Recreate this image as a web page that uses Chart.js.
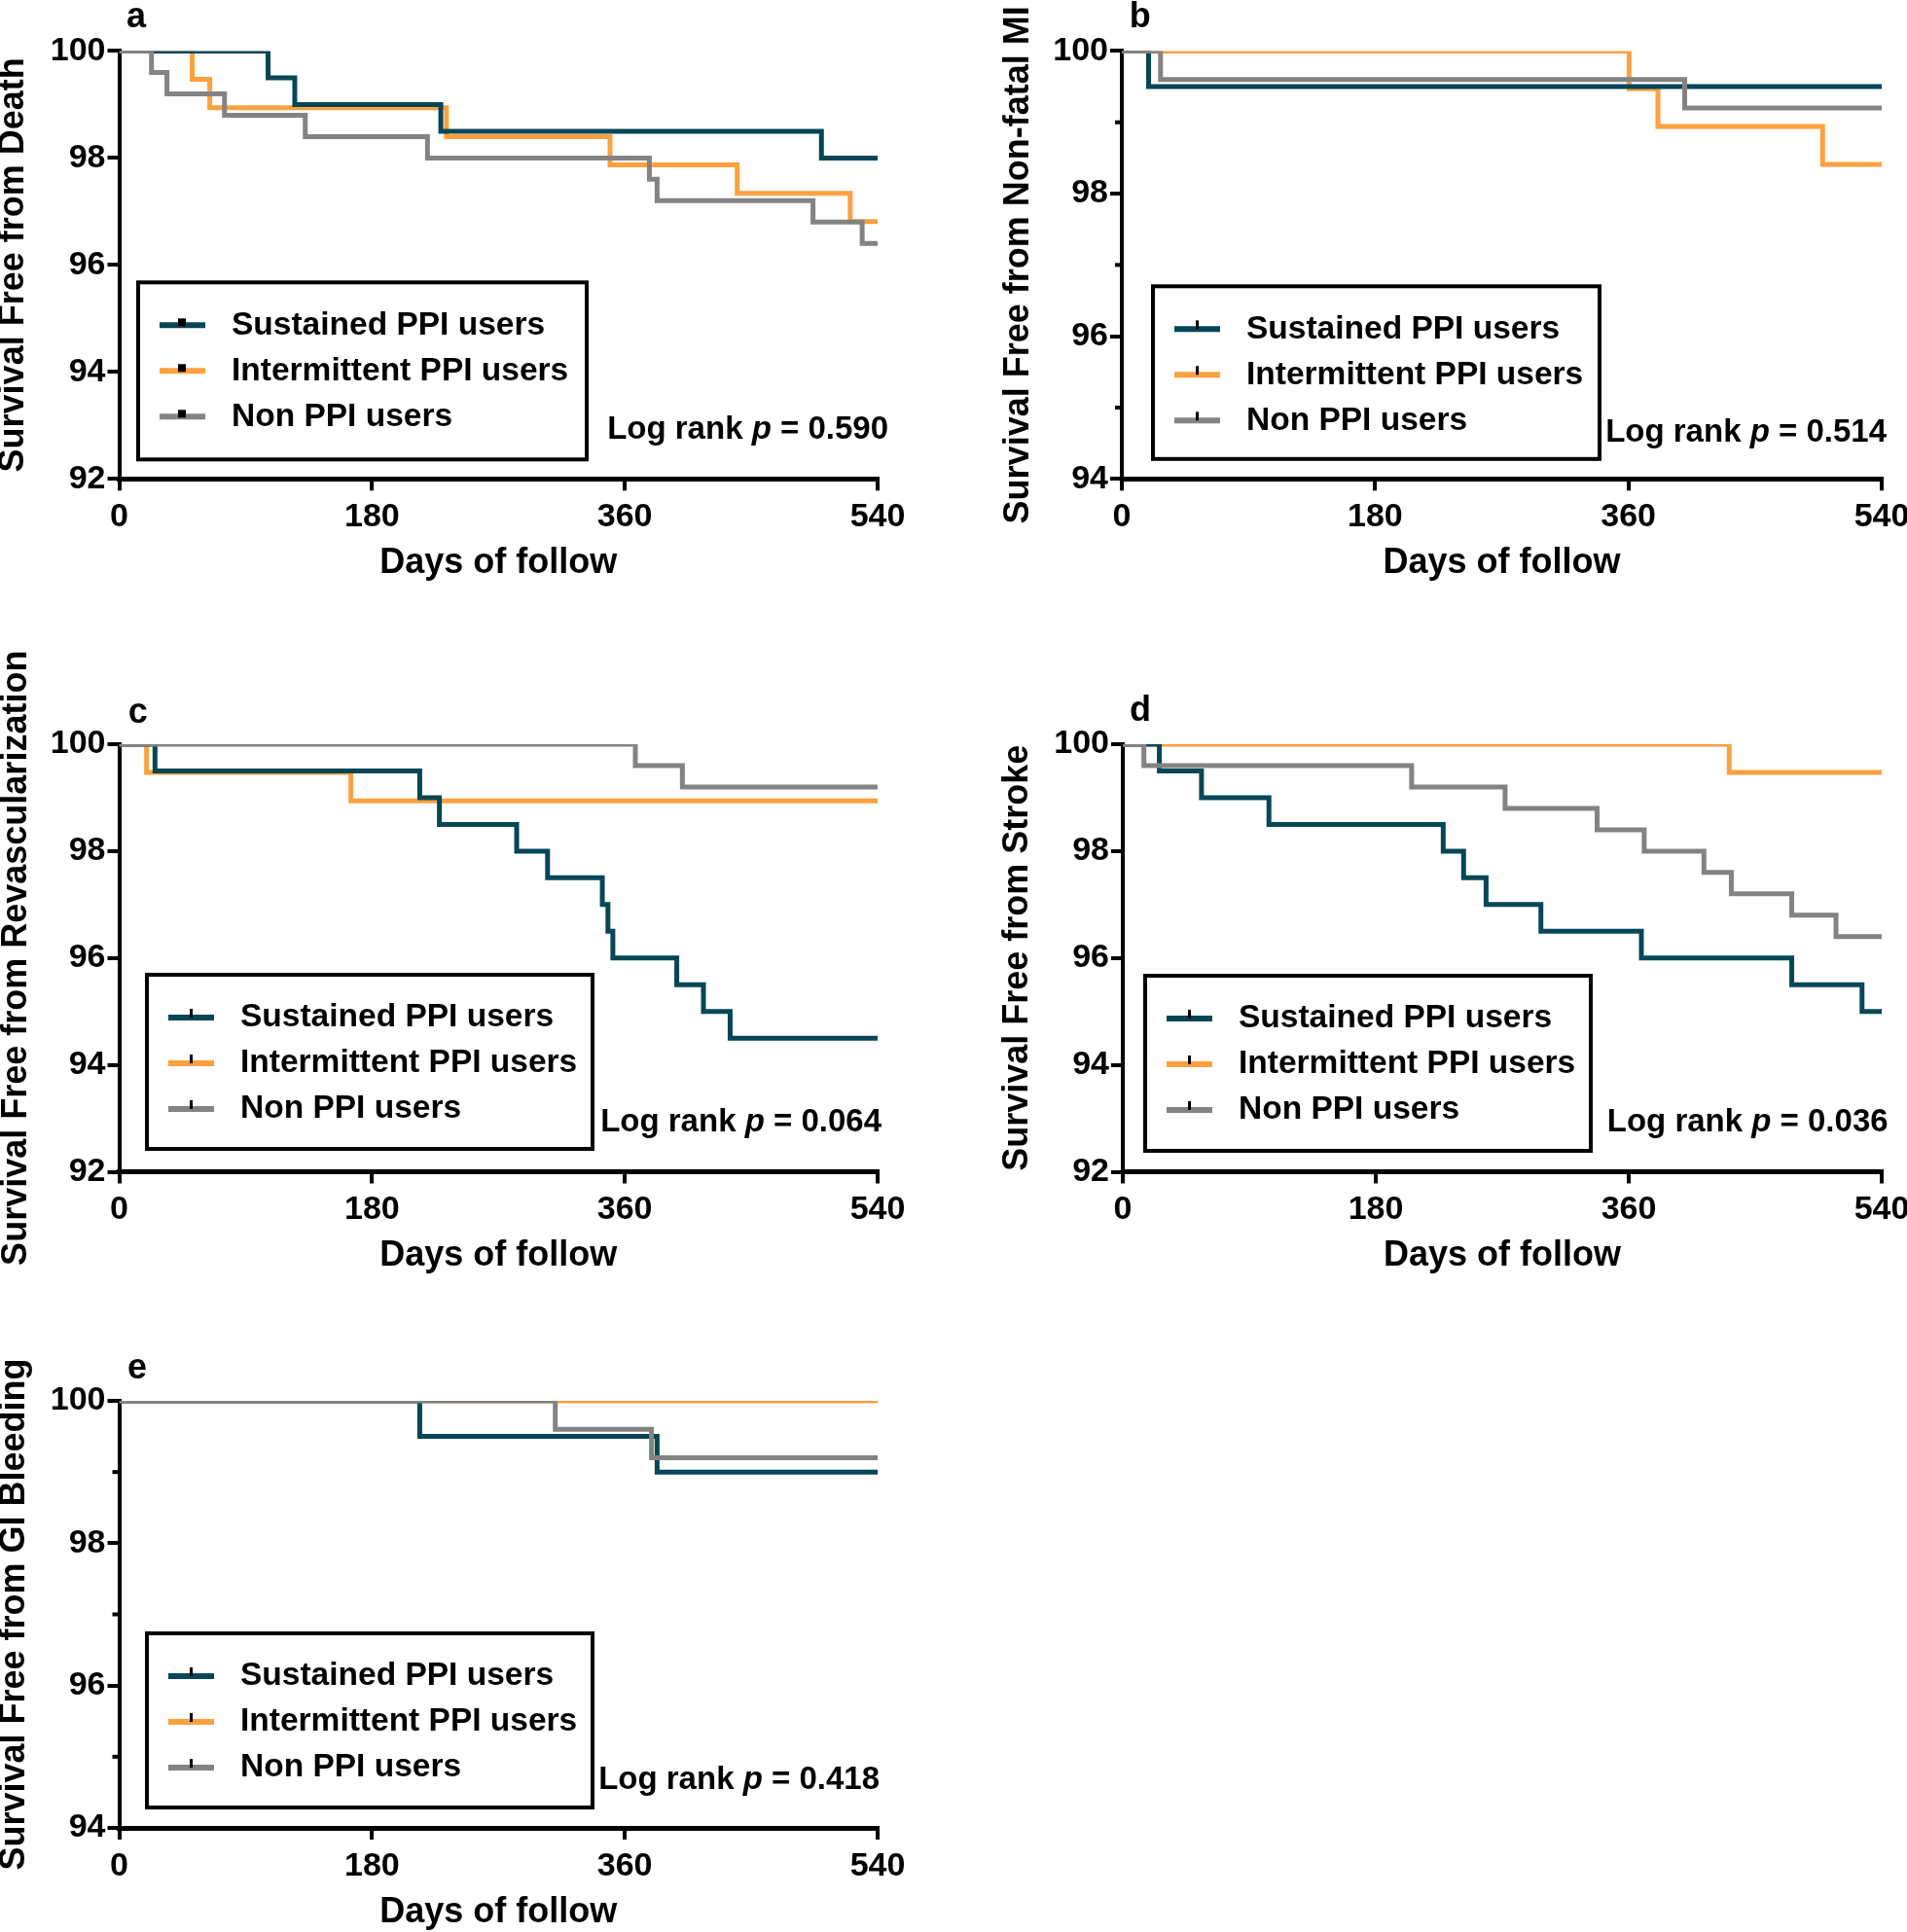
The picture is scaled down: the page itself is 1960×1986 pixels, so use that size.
<!DOCTYPE html>
<html><head><meta charset="utf-8">
<script src="https://cdn.jsdelivr.net/npm/chart.js@4.4.1/dist/chart.umd.min.js"></script>
<style>
html,body{margin:0;padding:0;background:#fff;overflow:hidden;width:1960px;height:1986px;position:relative}
canvas{position:absolute}
</style></head><body>
<canvas id="ca"></canvas><canvas id="cb"></canvas><canvas id="cc"></canvas><canvas id="cd"></canvas><canvas id="ce"></canvas>
<script>
// ---------------- DATA ----------------
const seriesLabels = ['Sustained PPI users', 'Intermittent PPI users', 'Non PPI users'];
const panelLetters = ['a', 'b', 'c', 'd', 'e'];
const yTitles = ['Survival Free from Death', 'Survival Free from Non-fatal MI', 'Survival Free from Revascularization', 'Survival Free from Stroke', 'Survival Free from GI Bleeding'];
const xTitle = 'Days of follow';
const pValues = ['0.590', '0.514', '0.064', '0.036', '0.418'];
const xTicks = [0, 180, 360, 540];
const yTicks92 = [92, 94, 96, 98, 100];
const yTicks94 = [94, 96, 98, 100];
const yMinorTicks94 = [95, 97, 99];

// Panel a: death
const aSustainedX = [0, 106, 125, 229, 500, 540];
const aSustainedY = [100, 99.5, 99.0, 98.5, 98.0, 98.0];
const aIntermittentX = [0, 52, 64.5, 233, 349.5, 440, 520.5, 540];
const aIntermittentY = [100, 99.47, 98.94, 98.4, 97.87, 97.34, 96.81, 96.81];
const aNonX = [0, 23, 34, 75, 132.5, 219.5, 377.5, 383, 494, 529, 540];
const aNonY = [100, 99.6, 99.2, 98.8, 98.4, 98.0, 97.6, 97.2, 96.8, 96.4, 96.4];

// Panel b: non-fatal MI
const bSustainedX = [0, 19, 540];
const bSustainedY = [100, 99.5, 99.5];
const bIntermittentX = [0, 360.5, 381, 498, 540];
const bIntermittentY = [100, 99.47, 98.94, 98.41, 98.41];
const bNonX = [0, 27.5, 400, 540];
const bNonY = [100, 99.6, 99.2, 99.2];

// Panel c: revascularization
const cSustainedX = [0, 25.5, 214, 228, 283, 305, 344, 348, 351.5, 397, 416, 435, 540];
const cSustainedY = [100, 99.5, 99.0, 98.5, 98.0, 97.5, 97.0, 96.5, 96.0, 95.5, 95.0, 94.5, 94.5];
const cIntermittentX = [0, 19.5, 165, 540];
const cIntermittentY = [100, 99.47, 98.94, 98.94];
const cNonX = [0, 367.5, 401, 540];
const cNonY = [100, 99.6, 99.2, 99.2];

// Panel d: stroke
const dSustainedX = [0, 26, 56, 104, 228, 242.5, 258.5, 297.5, 369, 476, 526, 540];
const dSustainedY = [100, 99.5, 99.0, 98.5, 98.0, 97.5, 97.0, 96.5, 96.0, 95.5, 95.0, 95.0];
const dIntermittentX = [0, 431.5, 540];
const dIntermittentY = [100, 99.47, 99.47];
const dNonX = [0, 15, 205.5, 272, 337.5, 371, 413.5, 433, 476, 507.5, 540];
const dNonY = [100, 99.6, 99.2, 98.8, 98.4, 98.0, 97.6, 97.2, 96.8, 96.4, 96.4];

// Panel e: GI bleeding
const eSustainedX = [0, 214, 383, 540];
const eSustainedY = [100, 99.5, 99.0, 99.0];
const eIntermittentX = [0, 540];
const eIntermittentY = [100, 100];
const eNonX = [0, 310.5, 379, 540];
const eNonY = [100, 99.6, 99.2, 99.2];

// ---------------- STYLE ----------------
const FONT = '"Liberation Sans", Arial, Helvetica, sans-serif';
const COLORS = ['#064657', '#fca13f', '#838383'];
const ORDERS = [1, 2, 0];

function pts(xs, ys) { return xs.map((x, i) => ({ x: x, y: ys[i] })); }

const decor = {
  id: 'decor',
  afterDraw(chart, args, o) {
    const ctx = chart.ctx, a = chart.chartArea;
    ctx.save();
    // minor y ticks
    if (o.minorTicks) {
      const ys = chart.scales.y;
      ctx.strokeStyle = '#000'; ctx.lineWidth = 4;
      o.minorTicks.forEach(v => {
        const y = ys.getPixelForValue(v);
        ctx.beginPath(); ctx.moveTo(a.left, y); ctx.lineTo(a.left - 7, y); ctx.stroke();
      });
    }
    // panel letter
    ctx.fillStyle = '#000';
    ctx.font = 'bold 36px ' + FONT;
    ctx.textAlign = 'center'; ctx.textBaseline = 'middle';
    ctx.fillText(o.letter, a.left + o.letterDx, a.top + o.letterDy);
    // legend box
    const bw = o.box.w, bh = o.box.h;
    const bx = a.left + o.box.dx, by = a.bottom + o.box.dBottom - bh;
    ctx.fillStyle = '#fff'; ctx.fillRect(bx, by, bw, bh);
    ctx.lineWidth = 4; ctx.strokeStyle = '#000'; ctx.strokeRect(bx, by, bw, bh);
    ctx.font = 'bold 33.5px ' + FONT;
    ctx.textAlign = 'left'; ctx.textBaseline = 'middle';
    chart.data.datasets.forEach((ds, i) => {
      const y = by + 44 + i * 47;
      ctx.strokeStyle = ds.borderColor; ctx.lineWidth = 6; ctx.lineCap = 'butt';
      ctx.beginPath(); ctx.moveTo(bx + 22, y); ctx.lineTo(bx + 69, y); ctx.stroke();
      ctx.fillStyle = '#000';
      if (o.mark === 'square') ctx.fillRect(bx + 41, y - 7, 8, 8);
      else ctx.fillRect(bx + 44, y - 9, 3, 9);
      ctx.fillText(ds.label, bx + 96, y);
    });
    // p-value text
    const nf = 'bold 33px ' + FONT, itf = 'italic bold 33px ' + FONT;
    const parts = [['Log rank ', nf], ['p', itf], [' = ' + o.p, nf]];
    let total = 0;
    parts.forEach(pp => { ctx.font = pp[1]; total += ctx.measureText(pp[0]).width; });
    let x = a.right + o.pDx - total;
    const py = a.bottom + o.pDy;
    parts.forEach(pp => { ctx.font = pp[1]; ctx.fillText(pp[0], x, py); x += ctx.measureText(pp[0]).width; });
    ctx.restore();
  }
};

function makePanel(id, idx, series, yMin, yTicks, minorTicks, st) {
  const cv = document.getElementById(id);
  cv.width = st.canvas.w; cv.height = st.canvas.h;
  cv.style.left = st.canvas.x + 'px'; cv.style.top = st.canvas.y + 'px';
  cv.style.width = st.canvas.w + 'px'; cv.style.height = st.canvas.h + 'px';
  const area = st.area;
  const titleLeft = st.titleX - 18;
  const yW = area.L - titleLeft;
  const xH = 105;
  const padding = {
    left: titleLeft - st.canvas.x,
    top: area.T - st.canvas.y,
    right: st.canvas.x + st.canvas.w - area.R,
    bottom: st.canvas.y + st.canvas.h - (area.B + xH)
  };
  const datasets = series.map((s, i) => ({
    label: seriesLabels[i], data: pts(s[0], s[1]), borderColor: COLORS[i], backgroundColor: COLORS[i],
    order: ORDERS[i], stepped: true, borderWidth: 5, pointRadius: 0, pointHoverRadius: 0,
    fill: false, clip: 0, tension: 0
  }));
  const axisCommon = {
    type: 'linear',
    grid: { display: true, drawOnChartArea: false, drawTicks: true, tickLength: 12, color: '#000', lineWidth: 4 },
    ticks: { color: '#000', font: { family: FONT, size: 34, weight: 'bold' }, maxRotation: 0, autoSkip: false }
  };
  new Chart(cv, {
    type: 'line',
    data: { datasets },
    options: {
      responsive: false, animation: false, devicePixelRatio: 1,
      layout: { padding },
      events: [],
      plugins: {
        legend: { display: false }, tooltip: { enabled: false },
        decor: Object.assign({ letter: panelLetters[idx], p: pValues[idx], minorTicks }, st.decor)
      },
      scales: {
        x: Object.assign({}, axisCommon, {
          min: 0, max: 540,
          afterBuildTicks: s => { s.ticks = xTicks.map(v => ({ value: v })); },
          afterFit: s => { s.height = xH; },
          border: { display: true, color: '#000', width: 5 },
          ticks: Object.assign({}, axisCommon.ticks, { padding: 7 }),
          title: { display: true, text: xTitle, color: '#000', font: { family: FONT, size: 36, weight: 'bold', lineHeight: 1 }, padding: 0 }
        }),
        y: Object.assign({}, axisCommon, {
          min: yMin, max: 100,
          afterBuildTicks: s => { s.ticks = yTicks.map(v => ({ value: v })); },
          afterFit: s => { s.width = yW; },
          border: { display: true, color: '#000', width: 4 },
          ticks: Object.assign({}, axisCommon.ticks, { padding: 2 }),
          title: { display: true, text: yTitles[idx], color: '#000', font: { family: FONT, size: 36, weight: 'bold', lineHeight: 1 }, padding: 0 }
        })
      }
    },
    plugins: [decor]
  });
}

makePanel('ca', 0, [[aSustainedX, aSustainedY], [aIntermittentX, aIntermittentY], [aNonX, aNonY]], 92, yTicks92, null, {
  canvas: { x: -20, y: 0, w: 1000, h: 640 }, area: { L: 122.5, R: 902, T: 52.4, B: 492.3 }, titleX: 14,
  decor: { letterDx: 17.5, letterDy: -34.4, box: { dx: 19.5, dBottom: -20, w: 461, h: 182 }, mark: 'square', pDx: 11, pDy: -50 }
});
makePanel('cb', 1, [[bSustainedX, bSustainedY], [bIntermittentX, bIntermittentY], [bNonX, bNonY]], 94, yTicks94, yMinorTicks94, {
  canvas: { x: 960, y: 0, w: 1010, h: 640 }, area: { L: 1153, R: 1934, T: 52.4, B: 492.3 }, titleX: 1046.7,
  decor: { letterDx: 18.7, letterDy: -34.4, box: { dx: 32, dBottom: -20.5, w: 459, h: 177.5 }, mark: 'tick', pDx: 5, pDy: -47 }
});
makePanel('cc', 2, [[cSustainedX, cSustainedY], [cIntermittentX, cIntermittentY], [cNonX, cNonY]], 92, yTicks92, null, {
  canvas: { x: -20, y: 640, w: 1000, h: 680 }, area: { L: 122.5, R: 902, T: 765, B: 1204.5 }, titleX: 17,
  decor: { letterDx: 19.2, letterDy: -32, box: { dx: 28.5, dBottom: -23.5, w: 458, h: 179 }, mark: 'tick', pDx: 4, pDy: -50.5 }
});
makePanel('cd', 3, [[dSustainedX, dSustainedY], [dIntermittentX, dIntermittentY], [dNonX, dNonY]], 92, yTicks92, null, {
  canvas: { x: 960, y: 640, w: 1010, h: 680 }, area: { L: 1154, R: 1934, T: 765, B: 1204.5 }, titleX: 1046.5,
  decor: { letterDx: 18, letterDy: -34, box: { dx: 23, dBottom: -21.5, w: 458, h: 180 }, mark: 'tick', pDx: 6.6, pDy: -50.5 }
});
makePanel('ce', 4, [[eSustainedX, eSustainedY], [eIntermittentX, eIntermittentY], [eNonX, eNonY]], 94, yTicks94, yMinorTicks94, {
  canvas: { x: -20, y: 1320, w: 1000, h: 666 }, area: { L: 122.5, R: 902, T: 1440, B: 1879 }, titleX: 15,
  decor: { letterDx: 18.5, letterDy: -33, box: { dx: 28.5, dBottom: -21, w: 458, h: 179 }, mark: 'tick', pDx: 2, pDy: -49 }
});
</script>
</body></html>
